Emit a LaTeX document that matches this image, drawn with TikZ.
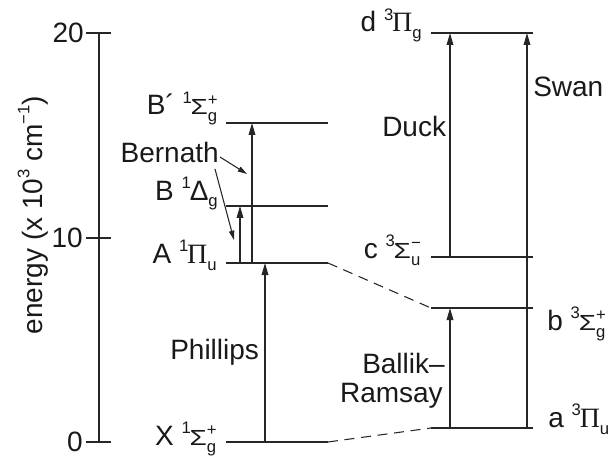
\documentclass[tikz,border=0pt]{standalone}
\usepackage{fontspec}
\setmainfont{Liberation Sans}
\newfontfamily\piserif{Liberation Serif}
\usetikzlibrary{arrows.meta}
\newcommand\smallsc[1]{{\fontsize{12.5}{12.5}\selectfont #1}}
\newcommand\tsym[4]{\raisebox{0.4em}{\smallsc{#1}}\kern-0.04em #2\ooalign{\raisebox{-0.25em}{\smallsc{#3}}\cr\raisebox{0.35em}{\smallsc{#4}}\cr}}
\newcommand\PIs{{\piserif Π}}
\newcommand\SIGs{\scalebox{1}[0.78]{Σ}}
\tikzset{
  lev/.style={line width=0.9pt, draw=black!85},
  trans/.style={line width=0.9pt, draw=black!85, -{Triangle[length=9pt,width=5pt]}},
  pointer/.style={line width=0.8pt, draw=black!85, -{Triangle[length=7pt,width=4pt]}},
  corr/.style={line width=0.8pt, draw=black!85, dash pattern=on 7.5pt off 5pt},
  lbl/.style={inner sep=0pt, text=black!90},
}
\begin{document}
\begin{tikzpicture}[x=0.75pt,y=-0.75pt, font=\fontsize{21}{25}\selectfont]
\useasboundingbox (0,0) rectangle (615,460);
% axis
\coordinate (ax0) at (99,442);
\coordinate (ax20) at (99,33);
\draw[lev] (ax0) -- (ax20);
\coordinate (t0l) at (86,442);  \coordinate (t0r) at (111,442);
\coordinate (t10l) at (86,238); \coordinate (t10r) at (111,238);
\coordinate (t20l) at (86,33);  \coordinate (t20r) at (111,33);
\draw[lev] (t0l) -- (t0r);
\draw[lev] (t10l) -- (t10r);
\draw[lev] (t20l) -- (t20r);
\node[lbl, anchor=east] (n0) at (83,442) {0};
\node[lbl, anchor=east] (n10) at (83,238) {10};
\node[lbl, anchor=east] (n20) at (84,33) {20};
\node[lbl, anchor=base, rotate=90] (ylab) at (42,215) {energy (x 10\raisebox{0.45em}{\smallsc{3}} cm\raisebox{0.45em}{\smallsc{−1}})};

% left levels
\coordinate (XL) at (226,442);  \coordinate (XR) at (328,442);
\coordinate (AL) at (226,263);  \coordinate (AR) at (328,263);
\coordinate (BdL) at (226,206); \coordinate (BdR) at (328,206);
\coordinate (BpL) at (226,123); \coordinate (BpR) at (328,123);
\draw[lev] (XL) -- (XR);
\draw[lev] (AL) -- (AR);
\draw[lev] (BdL) -- (BdR);
\draw[lev] (BpL) -- (BpR);

% right levels
\coordinate (dL) at (431,33);  \coordinate (dR) at (533,33);
\coordinate (cL) at (431,257); \coordinate (cR) at (533,257);
\coordinate (bL) at (431,308); \coordinate (bR) at (533,308);
\coordinate (aL) at (431,428); \coordinate (aR) at (533,428);
\draw[lev] (dL) -- (dR);
\draw[lev] (cL) -- (cR);
\draw[lev] (bL) -- (bR);
\draw[lev] (aL) -- (aR);

% correlation dashed lines
\draw[corr] (AR) -- (bL);
\draw[corr] (XR) -- (aL);

% transitions
\coordinate (ph0) at (265,442); \coordinate (ph1) at (265,263);
\coordinate (be10) at (240,263); \coordinate (be11) at (240,206);
\coordinate (be20) at (252,263); \coordinate (be21) at (252,123);
\coordinate (du0) at (450,257); \coordinate (du1) at (450,33);
\coordinate (sw0) at (527,428); \coordinate (sw1) at (527,33);
\coordinate (br0) at (450,428); \coordinate (br1) at (450,308);
\draw[trans] (ph0) -- (ph1);
\draw[trans] (be10) -- (be11);
\draw[trans] (be20) -- (be21);
\draw[trans] (du0) -- (du1);
\draw[trans] (sw0) -- (sw1);
\draw[trans] (br0) -- (br1);

% state labels
\node[lbl, anchor=base east] (lBp) at (218,115) {B´ \tsym{1}{\SIGs}{g}{+}};
\node[lbl, anchor=base east] (lBd) at (218,200) {B \tsym{1}{Δ}{g}{}};
\node[lbl, anchor=base east] (lA) at (217,263) {A \tsym{1}{\PIs}{u}{}};
\node[lbl, anchor=base east] (lX) at (217,445) {X \tsym{1}{\SIGs}{g}{+}};
\node[lbl, anchor=base east] (ld) at (422,32) {d \tsym{3}{\PIs}{g}{}};
\node[lbl, anchor=base east] (lc) at (421,258) {c \tsym{3}{\SIGs}{u}{−}};
\node[lbl, anchor=base west] (lb) at (547,330) {b \tsym{3}{\SIGs}{g}{+}};
\node[lbl, anchor=base west] (la) at (548,427) {a \tsym{3}{\PIs}{u}{}};

% transition labels
\node[lbl, anchor=base west] (duck) at (382,137) {Duck};
\node[lbl, anchor=base west] (swan) at (533,97) {Swan};
\node[lbl, anchor=base west] (phil) at (170,359) {Phillips};
\node[lbl, anchor=base east] (ball) at (445,373) {Ballik–};
\node[lbl, anchor=base east] (rams) at (443,402) {Ramsay};
\node[lbl, anchor=base east] (bern) at (219,162) {Bernath};

% Bernath pointers
\coordinate (bp1s) at (220,157); \coordinate (bp1e) at (247,174);
\coordinate (bp2s) at (215,169); \coordinate (bp2e) at (234,240);
\draw[pointer] (bp1s) -- (bp1e);
\draw[pointer] (bp2s) -- (bp2e);
\end{tikzpicture}
\end{document}
